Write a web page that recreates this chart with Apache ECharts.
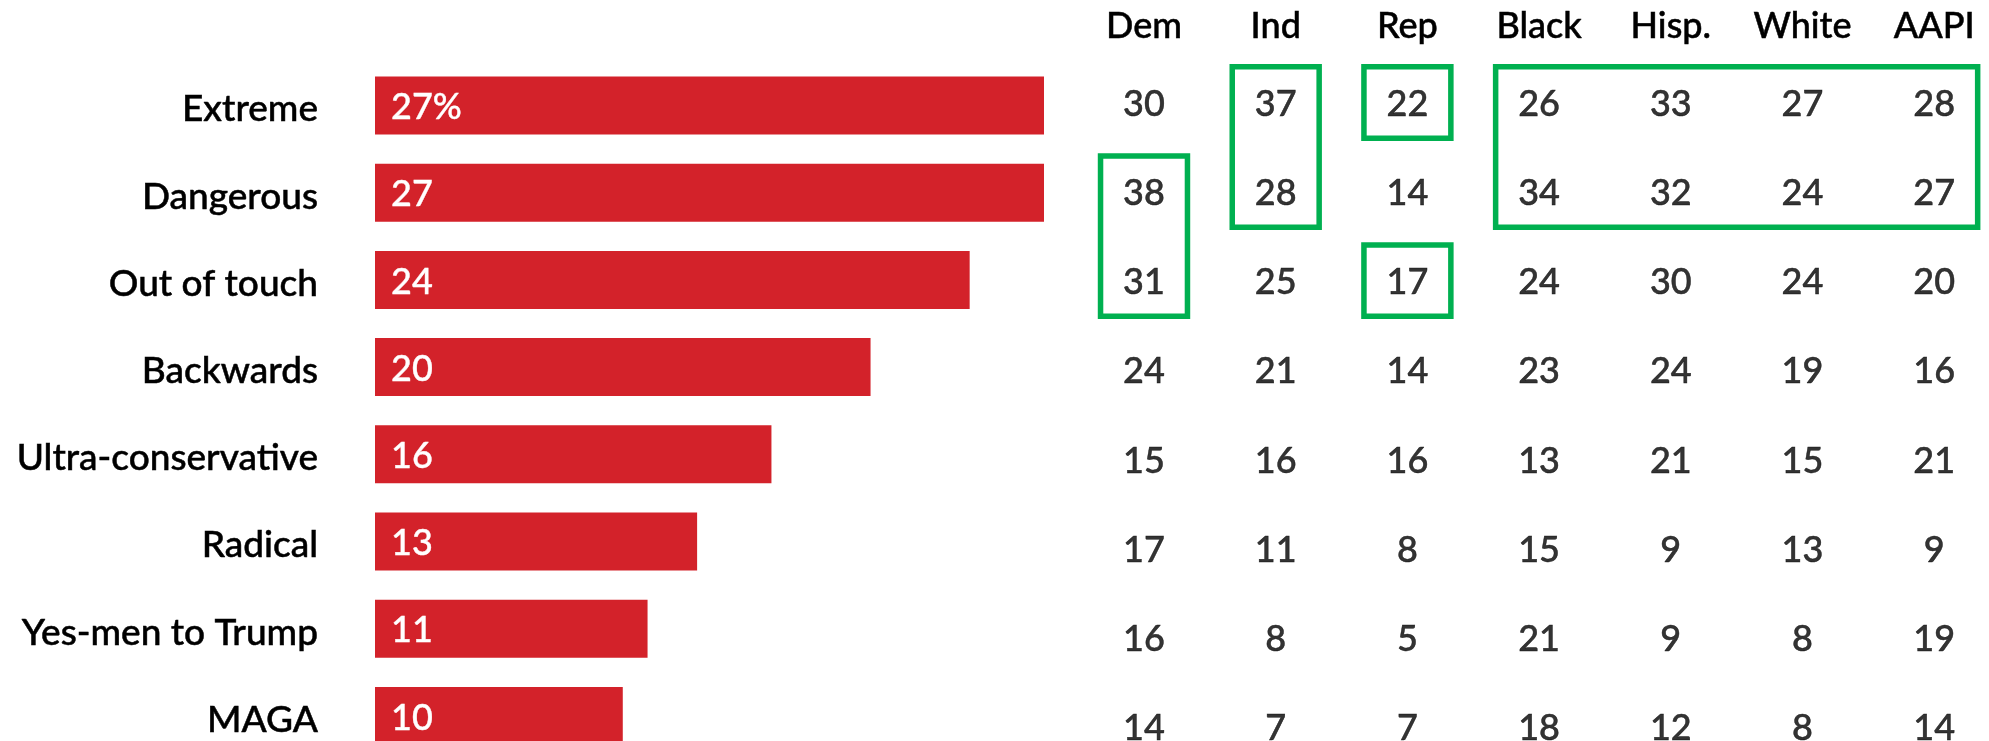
<!DOCTYPE html>
<html>
<head>
<meta charset="utf-8">
<script src="https://cdn.jsdelivr.net/npm/echarts@6/dist/echarts.min.js"></script>
<style>
html,body{margin:0;padding:0;background:#fff;}
#chart{width:1989px;height:741px;}
</style>
</head>
<body>
<div id="chart"></div>
<script>
// ---- data ----
const categories = ['Extreme','Dangerous','Out of touch','Backwards','Ultra-conservative','Radical','Yes-men to Trump','MAGA'];
const overall = [27, 27, 24, 20, 16, 13, 11, 10];
const columns = ['Dem','Ind','Rep','Black','Hisp.','White','AAPI'];
const dem   = [30, 38, 31, 24, 15, 17, 16, 14];
const ind   = [37, 28, 25, 21, 16, 11, 8, 7];
const rep   = [22, 14, 17, 14, 16, 8, 5, 7];
const black = [26, 34, 24, 23, 13, 15, 21, 18];
const hisp  = [33, 32, 30, 24, 21, 9, 9, 12];
const white = [27, 24, 24, 19, 15, 13, 8, 8];
const aapi  = [28, 27, 20, 16, 21, 9, 19, 14];
// highlighted groups: [fromColumn, toColumn, fromRow, toRow]
const highlights = [
  ['Ind','Ind','Extreme','Dangerous'],
  ['Rep','Rep','Extreme','Extreme'],
  ['Black','AAPI','Extreme','Dangerous'],
  ['Dem','Dem','Dangerous','Out of touch'],
  ['Rep','Rep','Out of touch','Out of touch']
];

// ---- build ----
const colValues = [dem, ind, rep, black, hisp, white, aapi];
const tableData = [];
colValues.forEach((arr, c) => arr.forEach((v, r) => tableData.push([c, r, v])));
const boxData = highlights.map(h => [columns.indexOf(h[0]), columns.indexOf(h[1]), categories.indexOf(h[2]), categories.indexOf(h[3])]);

const FONT = 'Lato';
const darkText = { color: '#000', fontFamily: FONT, fontWeight: 500, textBorderColor: '#000', textBorderWidth: 0.5 };
const chart = echarts.init(document.getElementById('chart'));
chart.setOption({
  backgroundColor: '#ffffff',
  animation: false,
  textStyle: { fontFamily: FONT },
  grid: [
    { left: 375, top: 61.9, width: 669, height: 697.6, containLabel: false, outerBoundsMode: 'none' },
    { left: 1078.15, top: 57.95, width: 921.9, height: 712.8, containLabel: false, outerBoundsMode: 'none' }
  ],
  xAxis: [
    { gridIndex: 0, type: 'value', min: 0, max: 27, show: false },
    { gridIndex: 1, type: 'category', data: columns, position: 'top',
      axisLine: { show: false }, axisTick: { show: false }, splitLine: { show: false },
      axisLabel: Object.assign({ margin: 32, fontSize: 36, verticalAlign: 'middle', interval: 0 }, darkText) }
  ],
  yAxis: [
    { gridIndex: 0, type: 'category', data: categories, inverse: true,
      axisLine: { show: false }, axisTick: { show: false }, splitLine: { show: false },
      axisLabel: Object.assign({ margin: 57, fontSize: 37, interval: 0, verticalAlign: 'top', lineHeight: 8 }, darkText) },
    { gridIndex: 1, type: 'category', data: categories, inverse: true, show: false }
  ],
  series: [
    { type: 'bar', xAxisIndex: 0, yAxisIndex: 0, data: overall, barWidth: 58,
      itemStyle: { color: '#D3222A' },
      label: { show: true, position: 'insideLeft', distance: 16, offset: [0, 2], color: '#fff', fontSize: 36, fontFamily: FONT, fontWeight: 500,
        textBorderColor: '#fff', textBorderWidth: 0.4,
        formatter: p => p.dataIndex === 0 ? p.value + '%' : String(p.value) } },
    { type: 'scatter', xAxisIndex: 1, yAxisIndex: 1, data: tableData, symbolSize: 1,
      itemStyle: { color: 'rgba(0,0,0,0)' },
      label: Object.assign({ show: true, position: 'inside', fontSize: 36, offset: [0, 2],
        formatter: p => String(p.value[2]) }, darkText) },
    { type: 'custom', xAxisIndex: 1, yAxisIndex: 1, data: boxData, clip: false,
      encode: { x: [0, 1], y: [2, 3] },
      renderItem: function (params, api) {
        const p0 = api.coord([api.value(0), api.value(2)]);
        const p1 = api.coord([api.value(1), api.value(3)]);
        const bw = api.size([1, 0])[0];
        const bh = api.size([0, 1])[1];
        const hw = bw * 0.33, hh = bh * 0.4;
        const x = Math.min(p0[0], p1[0]) - hw;
        const y = Math.min(p0[1], p1[1]) - hh;
        return {
          type: 'rect',
          shape: { x: x, y: y, width: Math.abs(p1[0] - p0[0]) + 2 * hw, height: Math.abs(p1[1] - p0[1]) + 2 * hh },
          style: { fill: 'none', stroke: '#00B050', lineWidth: 5.5 }
        };
      } }
  ]
});
</script>
</body>
</html>
